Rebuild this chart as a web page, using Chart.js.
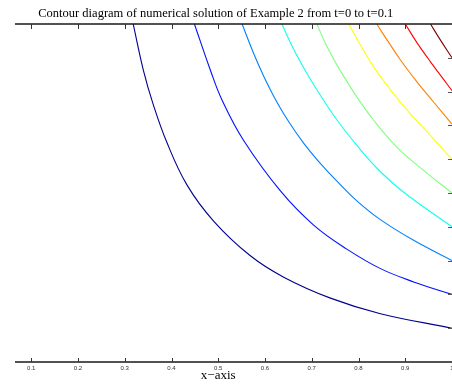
<!DOCTYPE html>
<html>
<head>
<meta charset="utf-8">
<script src="https://cdn.jsdelivr.net/npm/chart.js@4.4.1/dist/chart.umd.min.js"></script>
<style>
    html, body { margin: 0; padding: 0; background: #fff; }
    #wrap { position: relative; width: 452px; height: 387px; }
</style>
</head>
<body>
<div id="wrap"><canvas id="contour"></canvas></div>
<script>
// Contour levels and their colours (jet)
const levels = [0.1, 0.2, 0.3, 0.4, 0.5, 0.6, 0.7, 0.8, 0.9];
const levelColors = ['#00008f', '#0010ff', '#0080ff', '#10ffef', '#80ff80', '#ffff00', '#ff8000', '#ff0000', '#800000'];

// Points (x, y)
const c1x = [0.318, 0.340, 0.360, 0.390, 0.433, 0.490, 0.568, 0.640, 0.740, 0.847, 1.0];
const c1y = [1.0, 0.862, 0.766, 0.650, 0.524, 0.417, 0.315, 0.251, 0.189, 0.143, 0.10];
const c2x = [0.449, 0.483, 0.508, 0.554, 0.633, 0.704, 0.775, 0.846, 0.918, 1.0];
const c2y = [1.0, 0.864, 0.775, 0.656, 0.506, 0.405, 0.334, 0.277, 0.237, 0.20];
const c3x = [0.551, 0.576, 0.597, 0.618, 0.647, 0.683, 0.725, 0.761, 0.793, 0.846, 0.918, 1.0];
const c3y = [1.0, 0.912, 0.846, 0.788, 0.719, 0.647, 0.577, 0.525, 0.481, 0.422, 0.360, 0.30];
const c4x = [0.636, 0.661, 0.690, 0.718, 0.754, 0.797, 0.839, 0.896, 1.0];
const c4y = [1.0, 0.926, 0.853, 0.790, 0.716, 0.640, 0.574, 0.503, 0.40];
const c5x = [0.711, 0.732, 0.761, 0.797, 0.832, 0.882, 0.932, 1.0];
const c5y = [1.0, 0.935, 0.862, 0.783, 0.716, 0.636, 0.575, 0.50];
const c6x = [0.779, 0.804, 0.832, 0.868, 0.904, 0.946, 0.989, 1.0];
const c6y = [1.0, 0.938, 0.874, 0.806, 0.745, 0.682, 0.616, 0.60];
const c7x = [0.839, 0.861, 0.889, 0.925, 0.960, 1.0];
const c7y = [1.0, 0.953, 0.895, 0.829, 0.770, 0.704];
const c8x = [0.900, 0.925, 0.954, 0.982, 1.0];
const c8y = [1.0, 0.945, 0.888, 0.836, 0.803];
const c9x = [0.954, 0.975, 1.0];
const c9y = [1.0, 0.953, 0.90];

// Axis ticks
const xTicks = [0.1, 0.2, 0.3, 0.4, 0.5, 0.6, 0.7, 0.8, 0.9, 1.0];
const xTickLabels = ['0.1', '0.2', '0.3', '0.4', '0.5', '0.6', '0.7', '0.8', '0.9', '1'];
const yTicks = [0.1, 0.2, 0.3, 0.4, 0.5, 0.6, 0.7, 0.8, 0.9];
const xMin = 0.0652;
const xMax = 1.0;

const titleText = 'Contour diagram of numerical solution of Example 2 from t=0 to t=0.1';
const xLabelText = 'x\u2212axis';

const curvesX = [c1x, c2x, c3x, c4x, c5x, c6x, c7x, c8x, c9x];
const curvesY = [c1y, c2y, c3y, c4y, c5y, c6y, c7y, c8y, c9y];

const datasets = levels.map((lv, i) => ({
    label: 'level ' + lv,
    data: curvesX[i].map((x, j) => ({ x: x, y: curvesY[i][j] })),
    showLine: true,
    borderColor: levelColors[i],
    borderWidth: 1.1,
    pointRadius: 0,
    tension: 0.4
}));

// Frame, inward ticks and texts, MATLAB style
const framePlugin = {
    id: 'frame',
    afterDraw(chart) {
        const ctx = chart.ctx;
        const xs = chart.scales.x;
        const ys = chart.scales.y;
        const area = chart.chartArea;
        ctx.save();

        // top and bottom axis lines
        ctx.strokeStyle = '#1a1a1a';
        ctx.lineWidth = 1.5;
        ctx.beginPath();
        ctx.moveTo(area.left, area.top);
        ctx.lineTo(area.right, area.top);
        ctx.moveTo(area.left, area.bottom);
        ctx.lineTo(area.right, area.bottom);
        ctx.stroke();

        // x ticks pointing inward
        ctx.lineWidth = 1;
        ctx.strokeStyle = '#333';
        ctx.beginPath();
        xTicks.forEach(v => {
            const px = Math.round(xs.getPixelForValue(v)) + 0.5;
            ctx.moveTo(px, area.top);
            ctx.lineTo(px, area.top + 5);
            ctx.moveTo(px, area.bottom);
            ctx.lineTo(px, area.bottom - 4);
        });
        ctx.stroke();

        // y ticks on the right edge
        ctx.strokeStyle = '#555';
        ctx.beginPath();
        yTicks.forEach(v => {
            const py = Math.round(ys.getPixelForValue(v)) + 0.5;
            ctx.moveTo(area.right, py);
            ctx.lineTo(area.right - 4, py);
        });
        ctx.stroke();

        // tick labels
        ctx.fillStyle = '#333';
        ctx.font = '6px "Liberation Sans", Arial, sans-serif';
        ctx.textAlign = 'center';
        ctx.textBaseline = 'middle';
        xTicks.forEach((v, i) => {
            ctx.fillText(xTickLabels[i], xs.getPixelForValue(v), area.bottom + 6);
        });

        // title and axis label
        const mid = xs.getPixelForValue(0.5);
        ctx.fillStyle = '#000';
        ctx.textBaseline = 'alphabetic';
        ctx.font = '12.5px "Liberation Serif", "Times New Roman", serif';
        ctx.fillText(titleText, mid - 2.5, 17);
        ctx.font = '13px "Liberation Serif", "Times New Roman", serif';
        ctx.fillText(xLabelText, mid, 379);

        ctx.restore();
    }
};

new Chart(document.getElementById('contour'), {
    type: 'scatter',
    data: { datasets: datasets },
    options: {
        responsive: true,
        maintainAspectRatio: false,
        animation: false,
        layout: {
            padding: { left: 15, right: 0, top: 24, bottom: 25 }
        },
        scales: {
            x: { type: 'linear', display: false, min: xMin, max: xMax },
            y: { type: 'linear', display: false, min: 0, max: 1 }
        },
        plugins: {
            legend: { display: false },
            tooltip: { enabled: false }
        }
    },
    plugins: [framePlugin]
});
</script>
</body>
</html>
